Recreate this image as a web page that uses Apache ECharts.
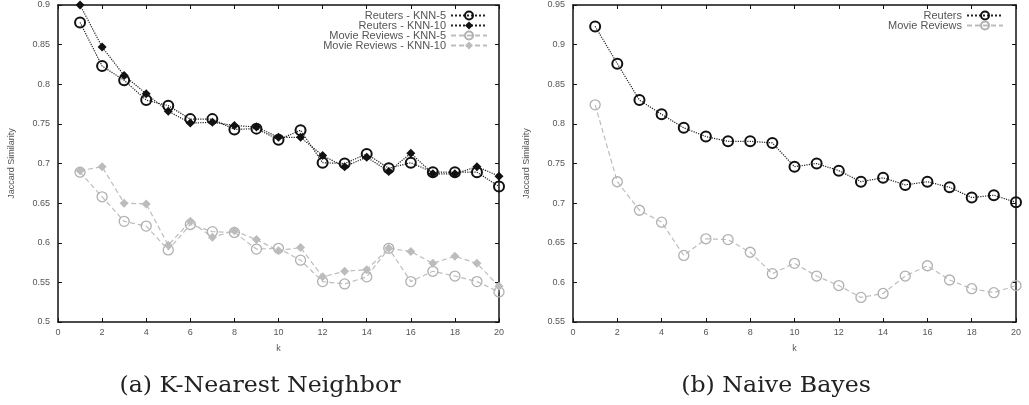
<!DOCTYPE html>
<html>
<head>
<meta charset="utf-8">
<script src="https://cdn.jsdelivr.net/npm/echarts@6/dist/echarts.min.js"></script>
<style>
  html, body { margin: 0; padding: 0; background: #fff; }
  #echart { width: 1029px; height: 405px; }
</style>
</head>
<body>
<div id="echart"></div>
<script>
var myChart = echarts.init(document.getElementById("echart"));

// k = 1..20
var ks = [1, 2, 3, 4, 5, 6, 7, 8, 9, 10, 11, 12, 13, 14, 15, 16, 17, 18, 19, 20];

// (a) K-Nearest Neighbor
var reutersKnn5 = [0.878, 0.823, 0.805, 0.780, 0.773, 0.756, 0.756, 0.743, 0.744, 0.730,
                   0.742, 0.701, 0.700, 0.712, 0.694, 0.701, 0.689, 0.689, 0.689, 0.671];
var reutersKnn10 = [0.900, 0.847, 0.811, 0.788, 0.766, 0.751, 0.752, 0.748, 0.746, 0.733,
                    0.733, 0.710, 0.696, 0.708, 0.690, 0.713, 0.687, 0.687, 0.696, 0.684];
var movieKnn5 = [0.689, 0.658, 0.627, 0.621, 0.591, 0.623, 0.614, 0.613, 0.592, 0.593,
                 0.578, 0.551, 0.548, 0.557, 0.593, 0.551, 0.564, 0.558, 0.551, 0.538];
var movieKnn10 = [0.691, 0.696, 0.650, 0.649, 0.597, 0.627, 0.607, 0.615, 0.604, 0.590,
                  0.594, 0.557, 0.564, 0.566, 0.593, 0.589, 0.574, 0.583, 0.574, 0.545];

// (b) Naive Bayes
var reutersNb = [0.923, 0.876, 0.830, 0.812, 0.795, 0.784, 0.778, 0.778, 0.776, 0.746,
                 0.750, 0.741, 0.727, 0.732, 0.723, 0.727, 0.720, 0.707, 0.710, 0.701];
var movieNb = [0.824, 0.727, 0.691, 0.676, 0.634, 0.655, 0.654, 0.638, 0.611, 0.624,
               0.608, 0.596, 0.581, 0.586, 0.608, 0.621, 0.603, 0.592, 0.587, 0.596];

var captions = ['(a) K-Nearest Neighbor', '(b) Naive Bayes'];

function pairs(ys) {
  return ks.map(function (k, i) { return [k, ys[i]]; });
}

var labelFont = { color: '#555', fontSize: 9, fontFamily: 'Liberation Sans' };
var legendFont = { color: '#555', fontSize: 11, fontFamily: 'Liberation Sans' };
var gray = '#bdbdbd';

function xAx(gi, top) {
  return {
    type: 'value', gridIndex: gi, min: 0, max: 20, interval: 2,
    position: top ? 'top' : 'bottom',
    name: top ? '' : 'k', nameLocation: 'middle', nameGap: 22,
    nameTextStyle: labelFont,
    axisLine: { show: true, onZero: false, lineStyle: { color: '#111', width: 1.5 } },
    axisTick: { inside: true, length: 4, lineStyle: { color: '#111' } },
    axisLabel: top ? { show: false } : Object.assign({ margin: 6 }, labelFont),
    splitLine: { show: false }
  };
}
function yAx(gi, min, max, right) {
  return {
    type: 'value', gridIndex: gi, min: min, max: max, interval: 0.05,
    position: right ? 'right' : 'left',
    name: right ? '' : 'Jaccard Similarity', nameLocation: 'middle', nameGap: 42,
    nameTextStyle: labelFont,
    axisLine: { show: true, onZero: false, lineStyle: { color: '#111', width: 1.5 } },
    axisTick: { inside: true, length: 4, lineStyle: { color: '#111' } },
    axisLabel: right ? { show: false } : Object.assign({ margin: 8 }, labelFont),
    splitLine: { show: false }
  };
}

function blackCircles(name, data, xi, yi) {
  return {
    name: name, type: 'line', xAxisIndex: xi, yAxisIndex: yi, data: pairs(data),
    symbol: 'circle', symbolSize: 10, z: 4,
    lineStyle: { color: '#222', width: 1.2, type: 'dotted' },
    itemStyle: { color: 'rgba(255,255,255,0)', borderColor: '#111', borderWidth: 2 }
  };
}
function grayCircles(name, data, xi, yi) {
  return {
    name: name, type: 'line', xAxisIndex: xi, yAxisIndex: yi, data: pairs(data),
    symbol: 'circle', symbolSize: 10, z: 3,
    lineStyle: { color: gray, width: 1.2, type: [5, 3] },
    itemStyle: { color: 'rgba(255,255,255,0)', borderColor: '#b0b0b0', borderWidth: 1.3 }
  };
}

function caption(text, cx) {
  return {
    type: 'text', x: cx, y: 386, scaleX: 1.03,
    style: { text: text, fontSize: 23, fontFamily: 'DejaVu Serif', fill: '#222',
             align: 'center', verticalAlign: 'middle' }
  };
}

option = {
  backgroundColor: '#fff',
  animation: false,
  grid: [
    { left: 58, right: 530, top: 5, bottom: 83 },
    { left: 573, right: 13, top: 5, bottom: 83 }
  ],
  xAxis: [xAx(0, false), xAx(0, true), xAx(1, false), xAx(1, true)],
  yAxis: [yAx(0, 0.5, 0.9, false), yAx(0, 0.5, 0.9, true),
          yAx(1, 0.55, 0.95, false), yAx(1, 0.55, 0.95, true)],
  legend: [
    {
      data: ['Reuters - KNN-5', 'Reuters - KNN-10', 'Movie Reviews - KNN-5', 'Movie Reviews - KNN-10'],
      orient: 'vertical', right: 536, top: 5, align: 'right', itemGap: -1,
      itemWidth: 36, itemHeight: 10, textStyle: legendFont
    },
    {
      data: ['Reuters', 'Movie Reviews'],
      orient: 'vertical', right: 20, top: 5, align: 'right', itemGap: -1,
      itemWidth: 36, itemHeight: 10, textStyle: legendFont
    }
  ],
  graphic: [caption(captions[0], 260), caption(captions[1], 776)],
  series: [
    blackCircles('Reuters - KNN-5', reutersKnn5, 0, 0),
    {
      name: 'Reuters - KNN-10', type: 'line', xAxisIndex: 0, yAxisIndex: 0, data: pairs(reutersKnn10),
      symbol: 'diamond', symbolSize: 9, z: 5,
      lineStyle: { color: '#222', width: 1.2, type: 'dotted' },
      itemStyle: { color: '#111' }
    },
    grayCircles('Movie Reviews - KNN-5', movieKnn5, 0, 0),
    {
      name: 'Movie Reviews - KNN-10', type: 'line', xAxisIndex: 0, yAxisIndex: 0, data: pairs(movieKnn10),
      symbol: 'diamond', symbolSize: 9, z: 3,
      lineStyle: { color: gray, width: 1.2, type: [5, 3] },
      itemStyle: { color: '#bcbcbc' }
    },
    blackCircles('Reuters', reutersNb, 2, 2),
    grayCircles('Movie Reviews', movieNb, 2, 2)
  ]
};

myChart.setOption(option);
</script>
</body>
</html>
